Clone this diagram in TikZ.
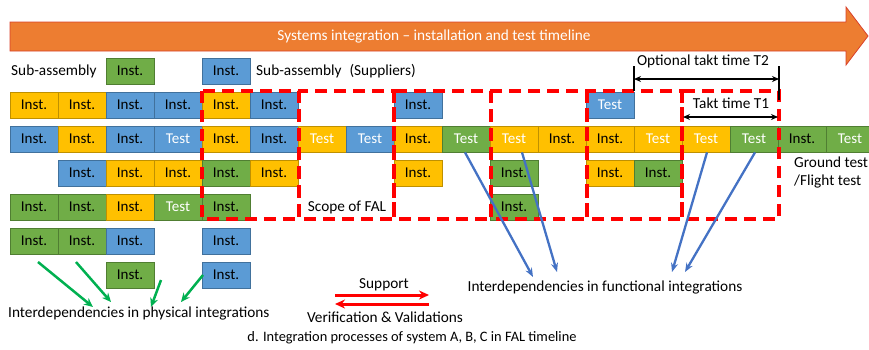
\documentclass[tikz,border=0pt]{standalone}
\usepackage{fontspec}
\setmainfont{Carlito}
\usetikzlibrary{arrows.meta,calc}
\definecolor{cY}{HTML}{FFC000}
\definecolor{cYd}{HTML}{BF9000}
\definecolor{cB}{HTML}{5B9BD5}
\definecolor{cBd}{HTML}{41719C}
\definecolor{cG}{HTML}{70AD47}
\definecolor{cGd}{HTML}{507E32}
\definecolor{cO}{HTML}{ED7D31}
\definecolor{cOd}{HTML}{D9412B}
\definecolor{cLine}{HTML}{4472C4}
\definecolor{cPhys}{HTML}{00B050}
\definecolor{cRed}{HTML}{FF0000}
\begin{document}
\begin{tikzpicture}[x=1pt,y=-1pt,
  box/.style={minimum width=48pt,minimum height=26pt,inner sep=0pt,line width=0.8pt,
    font=\fontsize{15pt}{17pt}\selectfont},
  yI/.style={box,fill=cY,draw=cYd,text=black},
  yT/.style={box,fill=cY,draw=cYd,text=white},
  bI/.style={box,fill=cB,draw=cBd,text=black},
  bT/.style={box,fill=cB,draw=cBd,text=white},
  gI/.style={box,fill=cG,draw=cGd,text=black},
  gT/.style={box,fill=cG,draw=cGd,text=white},
  lbl/.style={inner sep=0pt,font=\fontsize{15.3pt}{18pt}\selectfont},
  fal/.style={draw=cRed,line width=3.5pt,dash pattern=on 12pt off 7pt},
  func/.style={draw=cLine,line width=2.3pt,-{Stealth[length=9pt,width=7pt]}},
  phys/.style={draw=cPhys,line width=2.5pt,-{Stealth[length=9pt,width=8pt]}},
  takt/.style={draw=black,line width=1.5pt,{Stealth[length=7pt,width=6pt]}-{Stealth[length=7pt,width=6pt]}},
  bar/.style={draw=black,line width=1.8pt},
  sv/.style={draw=cRed,line width=3pt,-{Stealth[length=10pt,width=9pt]}}
]
\useasboundingbox (0,0) rectangle (869,349);
% timeline arrow
\path[draw=cOd,fill=cO,line width=0.8pt] (10,22) -- (846,22) -- (846,7) -- (868,36) -- (846,65) -- (846,51) -- (10,51) -- cycle;
\node[lbl,text=white] (title) at (434,36) {Systems integration – installation and test timeline};

% row 0
\node[lbl,anchor=west] (sa1) at (11,71) {Sub-assembly};
\node[gI] (r0c2) at (130,71) {Inst.};
\node[bI] (r0c4) at (226,71) {Inst.};
\node[lbl,anchor=west] (sa2) at (256,71) {Sub-assembly\hspace{8pt}(Suppliers)};

% row 1
\foreach \c/\s/\t in {0/yI/Inst.,1/yI/Inst.,2/bI/Inst.,3/bI/Inst.,4/yI/Inst.,5/bI/Inst.,8/bI/Inst.,12/bT/Test}
  \node[\s] (r1c\c) at ({34+48*\c},105) {\t};
% row 2
\foreach \c/\s/\t in {0/bI/Inst.,1/yI/Inst.,2/bI/Inst.,3/bT/Test,4/yI/Inst.,5/bI/Inst.,6/yT/Test,7/bT/Test,8/yI/Inst.,9/gT/Test,10/yT/Test,11/yI/Inst.,12/yI/Inst.,13/yT/Test,14/yT/Test,15/gT/Test,16/gI/Inst.,17/gT/Test}
  \node[\s] (r2c\c) at ({34+48*\c},139) {\t};
% row 3
\foreach \c/\s/\t in {1/bI/Inst.,2/yI/Inst.,3/yI/Inst.,4/gI/Inst.,5/yI/Inst.,8/yI/Inst.,10/gI/Inst.,12/yI/Inst.,13/gI/Inst.}
  \node[\s] (r3c\c) at ({34+48*\c},173) {\t};
% row 4
\foreach \c/\s/\t in {0/gI/Inst.,1/gI/Inst.,2/yI/Inst.,3/gT/Test,4/gI/Inst.,10/gI/Inst.}
  \node[\s] (r4c\c) at ({34+48*\c},207) {\t};
% row 5
\foreach \c/\s/\t in {0/gI/Inst.,1/gI/Inst.,2/bI/Inst.,4/bI/Inst.}
  \node[\s] (r5c\c) at ({34+48*\c},241) {\t};
% row 6
\foreach \c/\s/\t in {2/gI/Inst.,4/bI/Inst.}
  \node[\s] (r6c\c) at ({34+48*\c},275) {\t};

% FAL dashed stations
\foreach \a/\b in {202/299,299/394,394/491,491/587,587/682,682/779}
  \draw[fal] (\a,91) rectangle (\b,219);

\node[lbl] (scope) at (347,207) {Scope of FAL};
\node[lbl,anchor=west,align=left] (gt) at (794,172) {Ground test\\/Flight test};

% takt times
\coordinate (t2a) at (634,66);
\coordinate (t2b) at (634,91);
\coordinate (t2c) at (779,66);
\coordinate (t2d) at (779,100);
\draw[bar] (t2a) -- (t2b);
\draw[bar] (t2c) -- (t2d);
\coordinate (t2l) at (634,79);
\coordinate (t2r) at (779,79);
\draw[takt] (t2l) -- (t2r);
\node[lbl] (t2) at (703,61) {Optional takt time T2};
\coordinate (t1l) at (683,117);
\coordinate (t1r) at (778,117);
\draw[takt] (t1l) -- (t1r);
\node[lbl] (t1) at (731,103) {Takt time T1};

% functional interdependencies
\node[lbl] (func) at (605,287) {Interdependencies in functional integrations};
\coordinate (f1) at (533,277);
\coordinate (f2) at (557,272);
\coordinate (f3) at (672,272);
\coordinate (f4) at (685,272);
\draw[func] ($(r2c9.south)+(-1,0)$) -- (f1);
\draw[func] ($(r2c10.south)+(8,0)$) -- (f2);
\draw[func] ($(r2c14.south)+(1,0)$) -- (f3);
\draw[func] ($(r2c15.south)+(1,0)$) -- (f4);

% physical interdependencies
\node[lbl,anchor=west] (phys) at (8,313) {Interdependencies in physical integrations};
\coordinate (p1s) at (38,262);
\coordinate (p1e) at (93,307);
\coordinate (p2s) at (76,262);
\coordinate (p2e) at (111,302);
\coordinate (p3s) at (161,280);
\coordinate (p3e) at (151,307);
\coordinate (p4s) at (203,275);
\coordinate (p4e) at (181,302);
\draw[phys] (p1s) -- (p1e);
\draw[phys] (p2s) -- (p2e);
\draw[phys] (p3s) -- (p3e);
\draw[phys] (p4s) -- (p4e);

% support / V&V
\coordinate (s1) at (335,295);
\coordinate (s2) at (429,295);
\coordinate (v1) at (429,304);
\coordinate (v2) at (335,304);
\draw[sv] (s1) -- (s2);
\draw[sv] (v1) -- (v2);
\node[lbl] (sup) at (384,285) {Support};
\node[lbl] (vv) at (385,317) {Verification \& Validations};

\node[inner sep=0pt,font=\fontsize{14.4pt}{16pt}\selectfont] (cap) at (412,338) {d. Integration processes of system A, B, C in FAL timeline};
\end{tikzpicture}
\end{document}
